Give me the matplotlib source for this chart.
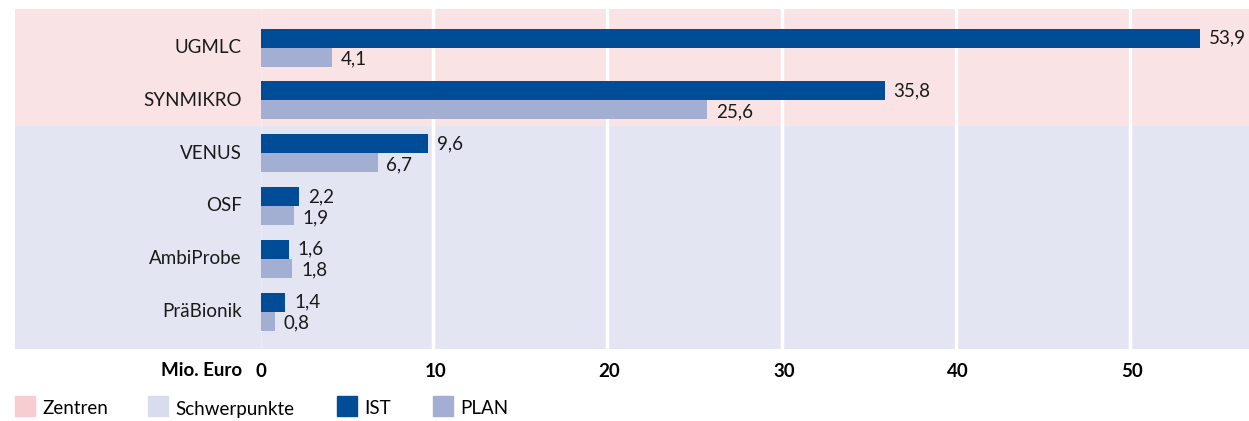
import matplotlib.pyplot as plt
import matplotlib.patches as mpatches
import numpy as np

# Daten (Mio. Euro)
projekte = ["UGMLC", "SYNMIKRO", "VENUS", "OSF", "AmbiProbe", "PräBionik"]
ist = [53.9, 35.8, 9.6, 2.2, 1.6, 1.4]
plan = [4.1, 25.6, 6.7, 1.9, 1.8, 0.8]
ticks = [0, 10, 20, 30, 40, 50]

c_ist = "#004C97"
c_plan = "#A3AED3"
c_zentren = "#F9E3E4"
c_schwer = "#E4E5F2"

plt.rcParams['font.family'] = ['Lato', 'DejaVu Sans']
fs = 13.5

fig = plt.figure(figsize=(12.49, 4.21), dpi=100)
ax = fig.add_axes([261/1249, 1-349/421, 1-261/1249, 340/421])

y = np.arange(len(projekte))
h = 0.36
ax.set_xlim(0, 56.7)
ax.set_ylim(5.71, -0.73)

# Hintergrund: Zentren / Schwerpunkte
ext = -246/988
ax.axhspan(-0.73, 1.49, xmin=ext, xmax=1, color=c_zentren, clip_on=False, zorder=0, lw=0)
ax.axhspan(1.49, 5.71, xmin=ext, xmax=1, color=c_schwer, clip_on=False, zorder=0, lw=0)

for t in ticks:
    ax.axvline(t - 0.12, color="white", lw=2.5, zorder=1)

ax.barh(y - h/2, ist, height=h, color=c_ist, zorder=2)
ax.barh(y + h/2, plan, height=h, color=c_plan, zorder=2)

for i in range(len(projekte)):
    ax.text(ist[i] + 0.5, y[i] - h/2, f"{ist[i]:.1f}".replace(".", ","),
            va="center", ha="left", fontsize=fs, color="#1a1a1a", zorder=3)
    ax.text(plan[i] + 0.5, y[i] + h/2 + 0.04, f"{plan[i]:.1f}".replace(".", ","),
            va="center", ha="left", fontsize=fs, color="#1a1a1a", zorder=3)
    ax.text(-1.1, y[i], projekte[i], va="center", ha="right", fontsize=fs, color="#1a1a1a")

ax.set_yticks([])
ax.set_xticks(ticks)
ax.set_xticklabels([str(t) for t in ticks], fontsize=fs, fontweight="bold")
ax.tick_params(axis="x", length=0, pad=10)
for s in ax.spines.values():
    s.set_visible(False)

fig.text(242/1249, 1-371/421, "Mio. Euro", ha="right", va="center",
         fontsize=fs, fontweight="bold")

# Legende
legend_items = [("Zentren", "#F8CDD1", 15), ("Schwerpunkte", "#D9DCEC", 148),
                ("IST", c_ist, 337), ("PLAN", c_plan, 433)]
for name, col, px in legend_items:
    fig.patches.append(mpatches.Rectangle((px/1249, 1-416/421), 20/1249, 20/421,
                                          transform=fig.transFigure, color=col, figure=fig))
    fig.text((px + 27)/1249, 1-409/421, name, ha="left", va="center", fontsize=fs)

fig.savefig("out.png", dpi=100)
